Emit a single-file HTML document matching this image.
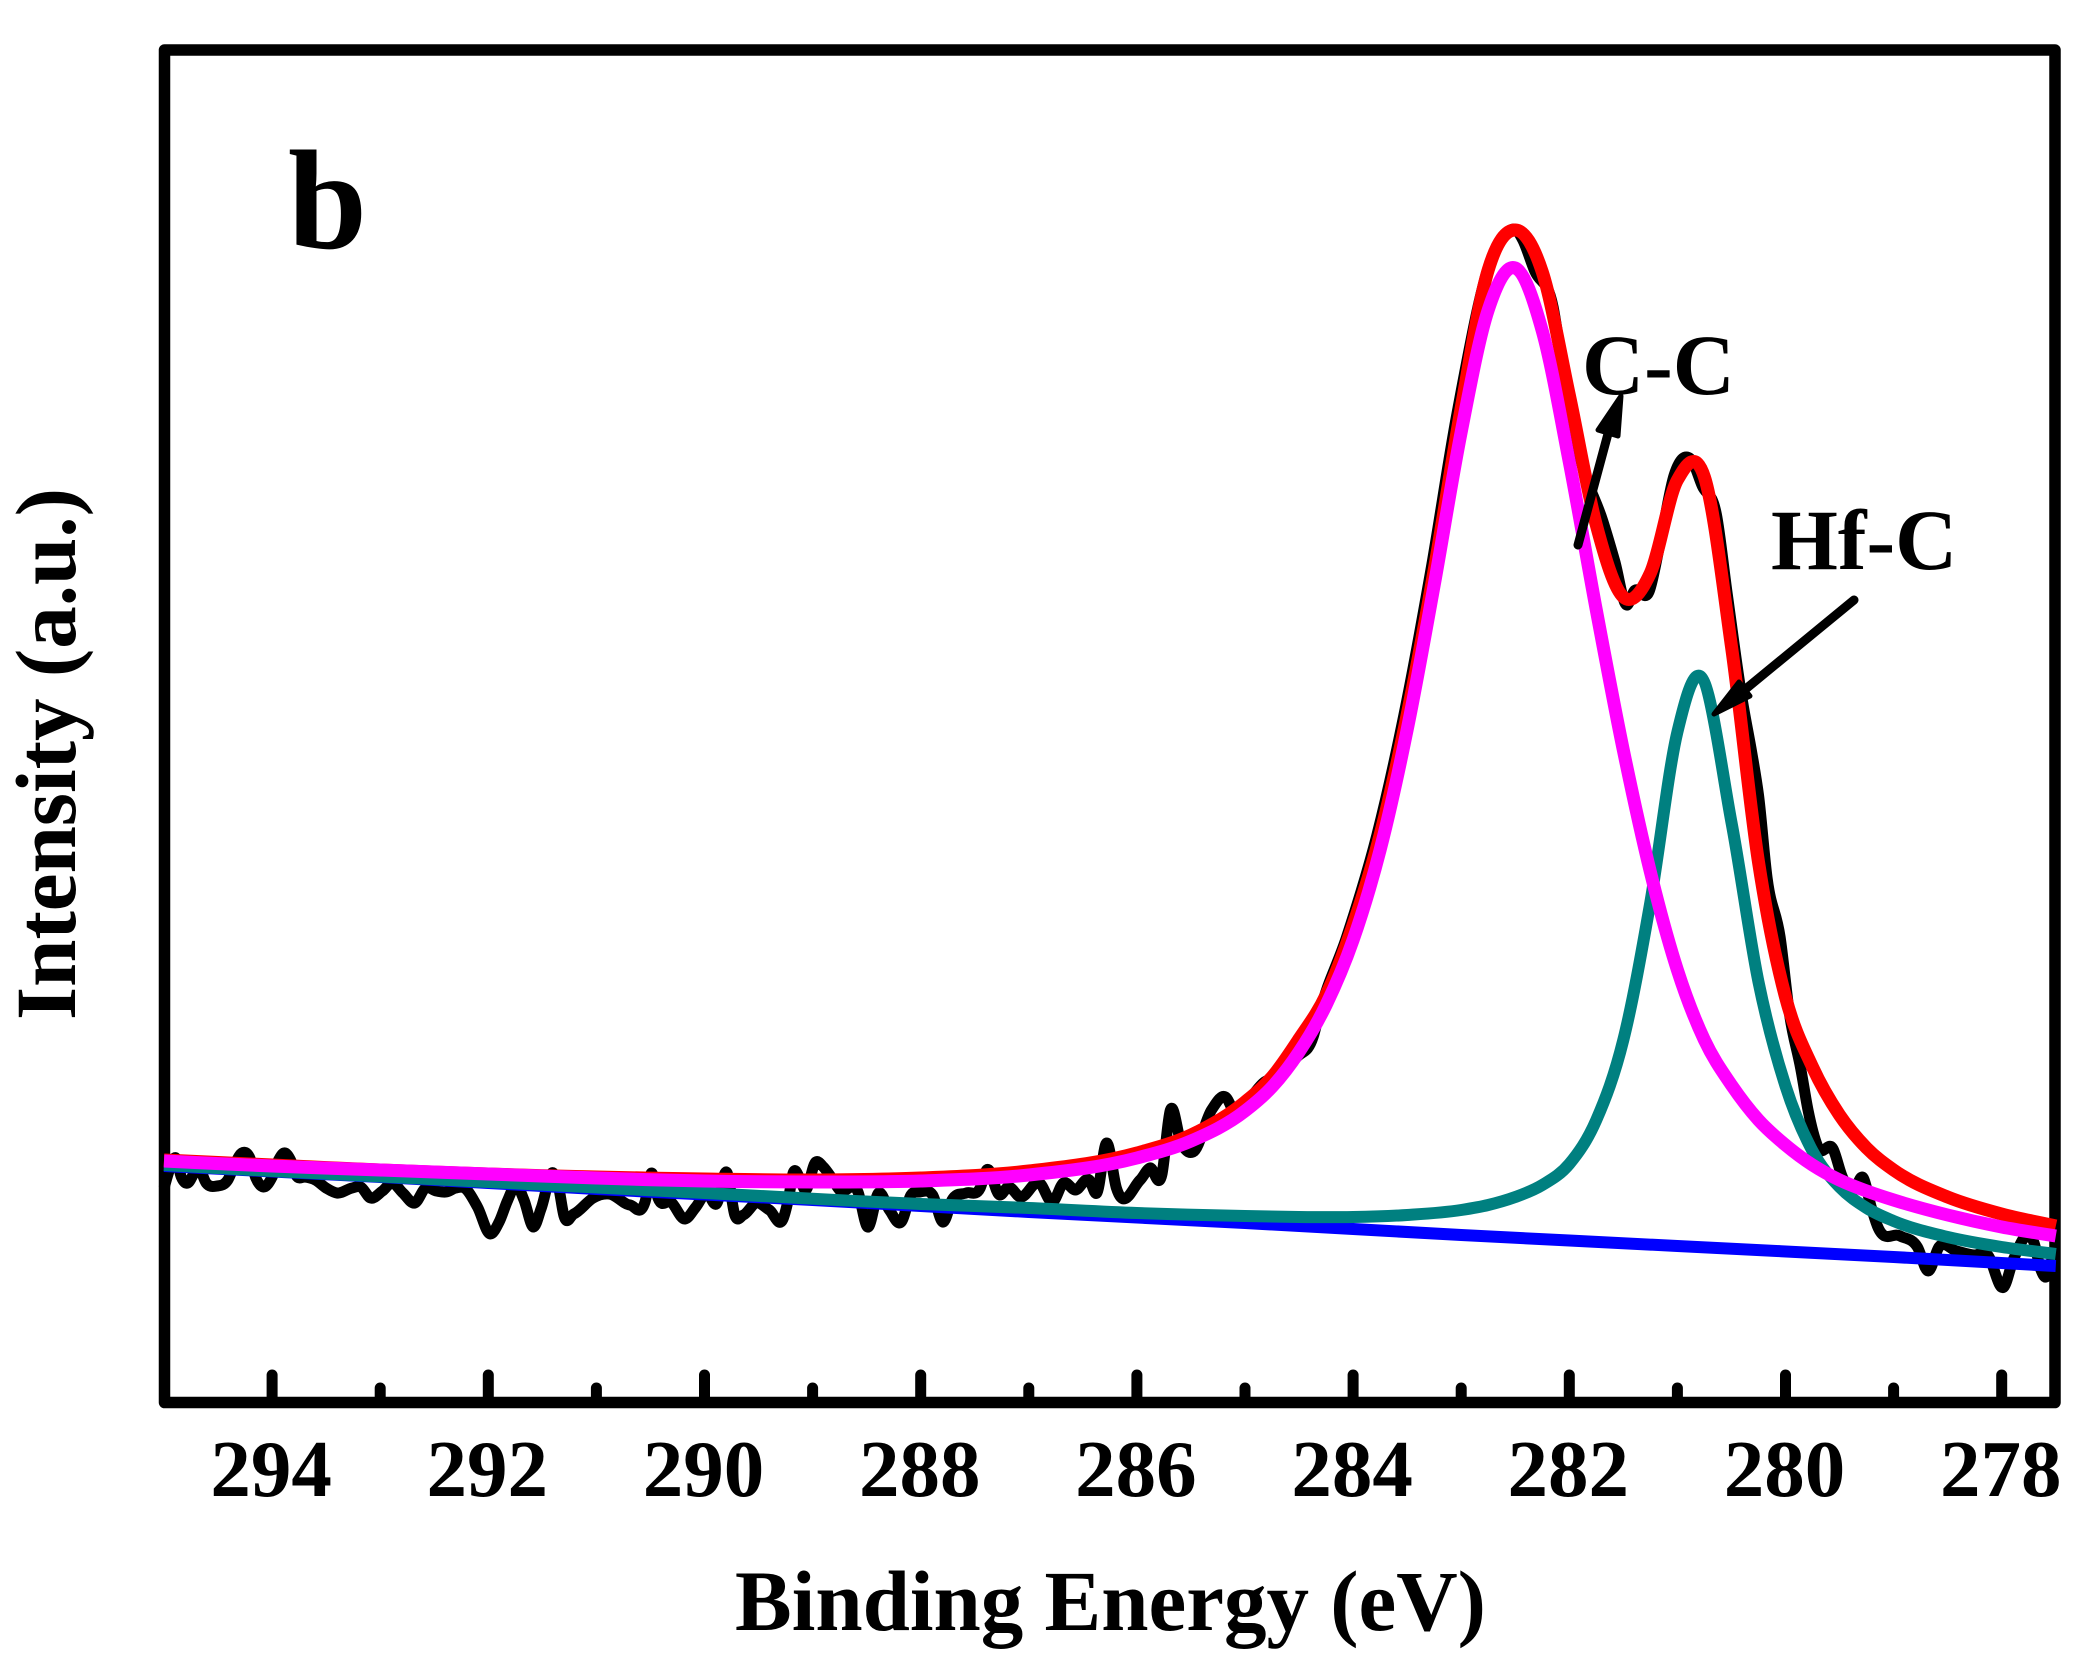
<!DOCTYPE html>
<html lang="en">
<head>
<meta charset="utf-8">
<title>C 1s XPS spectrum</title>
<style>
html,body{margin:0;padding:0;background:#fff;}
svg{display:block;}
text{font-family:"Liberation Serif","Times New Roman",serif;font-weight:bold;fill:#000;}
</style>
</head>
<body>
<svg id="chart" xmlns="http://www.w3.org/2000/svg" width="2100" height="1676" viewBox="0 0 2100 1676">
  <rect x="0" y="0" width="2100" height="1676" fill="#fff"/>
  <rect x="164.5" y="50" width="1890.5" height="1352.5" fill="none" stroke="#000" stroke-width="11.5" stroke-linejoin="round"/>
  <g id="ticks"></g>
  <g id="tick-labels"></g>
  <g id="series"></g>
  <g>
    <line x1="1578" y1="545" x2="1609" y2="430" stroke="#000" stroke-width="9" stroke-linecap="round"/>
    <polygon points="1621,396 1618,436 1598,430" fill="#000" stroke="#000" stroke-width="5" stroke-linejoin="round"/>
  </g>
  <g>
    <line x1="1854" y1="600" x2="1742" y2="692" stroke="#000" stroke-width="9" stroke-linecap="round"/>
    <polygon points="1714,714 1739,682 1750,696" fill="#000" stroke="#000" stroke-width="5" stroke-linejoin="round"/>
  </g>
  <text x="288" y="248" font-size="142">b</text>
  <text x="1582" y="394" font-size="86">C-C</text>
  <text x="1771" y="569" font-size="86">Hf-C</text>
  <text x="735" y="1630" font-size="86" textLength="751" lengthAdjust="spacingAndGlyphs">Binding Energy (eV)</text>
  <text transform="translate(75,1020) rotate(-90)" x="0" y="0" font-size="86" textLength="532" lengthAdjust="spacingAndGlyphs">Intensity (a.u.)</text>
</svg>
<script>
var majorTicks = [294, 292, 290, 288, 286, 284, 282, 280, 278];
var minorTicks = [293, 291, 289, 287, 285, 283, 281, 279];
var tickLabels = ["294", "292", "290", "288", "286", "284", "282", "280", "278"];

var fitEnergy = [295,294,293,292,291,290,289,288,287,286,285.5,285,284.75,284.5,284.25,284,283.75,283.5,283.25,283,282.75,282.5,282.25,282,281.75,281.5,281.25,281,280.75,280.5,280.25,280,279.75,279.5,279.25,279,278.5,278,277.5];
var fitIntensity = [242,237,232,228,225,223,222,224,231,249,267,300,325,363,407,477,567,687,832,994,1132,1172,1130,1007,877,805,829,922,925,756,540,405,335,287,254,232,205,188,176];
var ccIntensity = [241,236,232,228,224,221,220,221,227,244,261,291,315,350,397,462,552,672,817,970,1092,1134,1071,940,792,652,530,432,362,317,282,257,237,222,211,202,187,175,166];

var hfcEnergy = [295,294,292,290,288,287,286,285,284.5,284,283.5,283,282.75,282.5,282.25,282,281.75,281.5,281.25,281,280.79,280.5,280.25,280,279.75,279.5,279.25,279,278.5,278,277.5];
var hfcIntensity = [237,231,220,209,198,194,189,186,185,185,187,192,197,205,217,238,282,362,500,670,726,580,420,316,251,215,194,181,165,155,148];

var backgroundEnergy = [295,293,291,289,287,285,283,281,279,277.5];
var backgroundIntensity = [236,225,213,202,190,179,167,156,145,136];

var rawEnergy = [295,294.95,294.89,294.84,294.78,294.72,294.68,294.61,294.51,294.41,294.34,294.28,294.21,294.15,294.08,294,293.94,293.89,293.83,293.78,293.69,293.6,293.5,293.4,293.26,293.18,293.09,292.98,292.89,292.79,292.68,292.58,292.48,292.39,292.3,292.22,292.1,291.98,291.9,291.82,291.74,291.67,291.58,291.51,291.4,291.35,291.3,291.21,291.03,290.97,290.88,290.69,290.55,290.49,290.43,290.31,290.18,290.08,289.98,289.89,289.79,289.72,289.64,289.52,289.4,289.27,289.22,289.18,289.12,289.07,288.97,288.9,288.83,288.75,288.58,288.49,288.39,288.29,288.18,288.09,288.01,287.89,287.79,287.71,287.58,287.45,287.39,287.27,287.19,287.08,286.9,286.78,286.68,286.57,286.44,286.37,286.28,286.19,285.97,285.88,285.77,285.69,285.59,285.48,285.31,285.18,285.09,284.98,284.82,284.69,284.52,284.37,284.31,284.06,283.78,283.53,283.28,283.03,282.7,282.61,282.48,282.43,282.32,282.15,282.07,281.9,281.69,281.58,281.47,281.4,281.26,281.16,281.03,280.87,280.77,280.64,280.54,280.4,280.31,280.25,280.17,280.05,279.96,279.86,279.79,279.7,279.56,279.47,279.37,279.28,279.21,279.15,278.94,278.78,278.68,278.58,278.42,278.26,278.13,277.98,277.89,277.7,277.64,277.59,277.52];
var rawIntensity = [214,232,244,225,219,229,234,219,216,222,239,249,245,224,215,225,242,249,242,227,225,222,214,209,214,215,204,211,219,209,199,214,211,210,214,214,195,168,180,202,217,202,175,194,229,215,186,188,204,207,208,197,200,229,204,200,183,195,209,198,229,187,187,199,192,184,205,229,224,212,240,235,225,212,210,175,209,192,180,207,210,207,180,202,209,214,232,207,215,205,219,200,219,212,222,209,259,214,222,234,227,292,259,250,292,305,289,300,320,325,345,365,390,465,567,687,832,994,1149,1165,1171,1162,1131,1095,1041,945,881,841,797,811,811,859,927,942,916,888,809,702,648,607,524,465,386,334,291,255,253,224,212,224,196,176,166,155,131,155,151,147,147,115,143,159,133,125,149];

var svgNS = 'http://www.w3.org/2000/svg';
var plotLeft = 164;
var plotBottom = 1402;
var pixelsPerEv = 108.1;
var pixelsPerCount = 1;

function xScale(energy) { return plotLeft + (295 - energy) * pixelsPerEv; }
function yScale(intensity) { return plotBottom - intensity * pixelsPerCount; }

function smoothPath(energies, intensities) {
  var px = energies.map(xScale);
  var py = intensities.map(yScale);
  var n = px.length;
  var m = [];
  for (var i = 0; i < n; i++) {
    if (i === 0) { m.push((py[1] - py[0]) / (px[1] - px[0])); continue; }
    if (i === n - 1) { m.push((py[i] - py[i - 1]) / (px[i] - px[i - 1])); continue; }
    var h1 = px[i] - px[i - 1];
    var h2 = px[i + 1] - px[i];
    var d1 = (py[i] - py[i - 1]) / h1;
    var d2 = (py[i + 1] - py[i]) / h2;
    m.push((h2 * d1 + h1 * d2) / (h1 + h2));
  }
  var d = 'M' + px[0].toFixed(1) + ' ' + py[0].toFixed(1);
  for (var j = 0; j < n - 1; j++) {
    var h = (px[j + 1] - px[j]) / 3;
    d += 'C' + (px[j] + h).toFixed(1) + ' ' + (py[j] + m[j] * h).toFixed(1) + ' ' +
         (px[j + 1] - h).toFixed(1) + ' ' + (py[j + 1] - m[j + 1] * h).toFixed(1) + ' ' +
         px[j + 1].toFixed(1) + ' ' + py[j + 1].toFixed(1);
  }
  return d;
}

var seriesGroup = document.getElementById('series');

var rawPath = document.createElementNS(svgNS, 'path');


rawPath.setAttribute('d', smoothPath(rawEnergy, rawIntensity));
rawPath.setAttribute('fill', 'none');
rawPath.setAttribute('stroke', '#000000');
rawPath.setAttribute('stroke-width', '11');
rawPath.setAttribute('stroke-linejoin', 'round');
seriesGroup.appendChild(rawPath);

var fitPath = document.createElementNS(svgNS, 'path');


fitPath.setAttribute('d', smoothPath(fitEnergy, fitIntensity));
fitPath.setAttribute('fill', 'none');
fitPath.setAttribute('stroke', '#ff0000');
fitPath.setAttribute('stroke-width', '13');
seriesGroup.appendChild(fitPath);

var backgroundPath = document.createElementNS(svgNS, 'path');


backgroundPath.setAttribute('d', smoothPath(backgroundEnergy, backgroundIntensity));
backgroundPath.setAttribute('fill', 'none');
backgroundPath.setAttribute('stroke', '#0000ff');
backgroundPath.setAttribute('stroke-width', '12');
seriesGroup.appendChild(backgroundPath);

var hfcPath = document.createElementNS(svgNS, 'path');


hfcPath.setAttribute('d', smoothPath(hfcEnergy, hfcIntensity));
hfcPath.setAttribute('fill', 'none');
hfcPath.setAttribute('stroke', '#008080');
hfcPath.setAttribute('stroke-width', '12');
seriesGroup.appendChild(hfcPath);

var ccPath = document.createElementNS(svgNS, 'path');


ccPath.setAttribute('d', smoothPath(fitEnergy, ccIntensity));
ccPath.setAttribute('fill', 'none');
ccPath.setAttribute('stroke', '#ff00ff');
ccPath.setAttribute('stroke-width', '13');
seriesGroup.appendChild(ccPath);

var tickGroup = document.getElementById('ticks');
majorTicks.forEach(function (value) {
  var tick = document.createElementNS(svgNS, 'line');
  
  
  tick.setAttribute('x1', xScale(value));
  tick.setAttribute('x2', xScale(value));
  tick.setAttribute('y1', plotBottom);
  tick.setAttribute('y2', plotBottom - 27);
  tick.setAttribute('stroke', '#000');
  tick.setAttribute('stroke-width', '11');
  tick.setAttribute('stroke-linecap', 'round');
  tickGroup.appendChild(tick);
});
minorTicks.forEach(function (value) {
  var tick = document.createElementNS(svgNS, 'line');
  
  
  tick.setAttribute('x1', xScale(value));
  tick.setAttribute('x2', xScale(value));
  tick.setAttribute('y1', plotBottom);
  tick.setAttribute('y2', plotBottom - 14);
  tick.setAttribute('stroke', '#000');
  tick.setAttribute('stroke-width', '11');
  tick.setAttribute('stroke-linecap', 'round');
  tickGroup.appendChild(tick);
});

var labelGroup = document.getElementById('tick-labels');
majorTicks.forEach(function (value, i) {
  var label = document.createElementNS(svgNS, 'text');
  
  
  label.setAttribute('x', xScale(value) - 1);
  label.setAttribute('y', 1496);
  label.setAttribute('font-size', '81');
  label.setAttribute('text-anchor', 'middle');
  label.textContent = tickLabels[i];
  labelGroup.appendChild(label);
});
</script>
</body>
</html>
